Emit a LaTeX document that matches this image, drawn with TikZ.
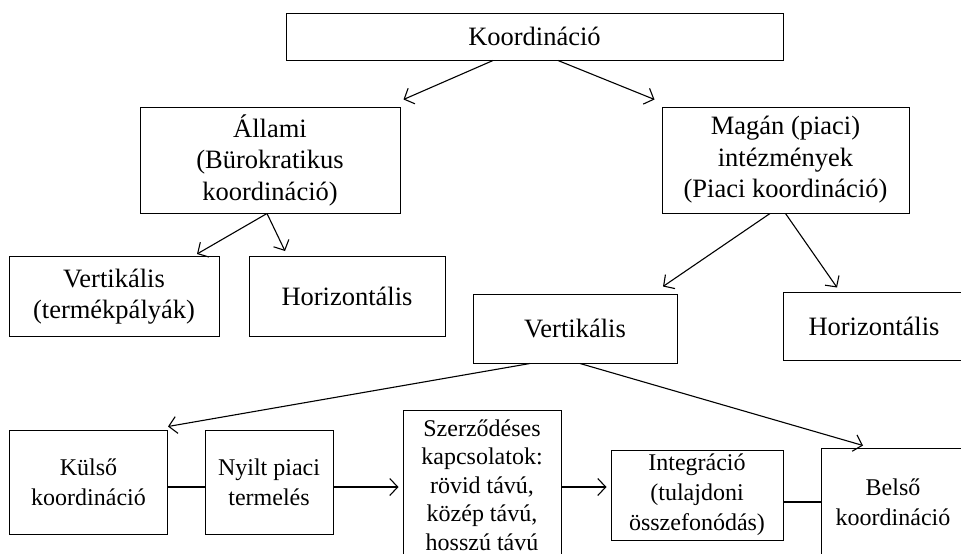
\documentclass[tikz,border=0pt]{standalone}
\usepackage{fontspec}
\setmainfont{Liberation Serif}
\usetikzlibrary{arrows.meta,positioning}

\newcommand{\bigtxt}{\fontsize{26.5}{31.5}\selectfont}
\newcommand{\smalltxt}{\fontsize{24}{30}\selectfont}
\newcommand{\densetxt}{\fontsize{24}{28.5}\selectfont}

\tikzset{
	box/.style={draw, line width=1pt, align=center, inner sep=0pt},
	arr/.style={line width=1.1pt, -{Straight Barb[length=8pt,width=17pt]}},
	link/.style={line width=1.1pt}
}

\begin{document}
\begin{tikzpicture}[node distance=130pt]
	\useasboundingbox (0pt,0pt) rectangle (961pt,-554pt);
	% Boxes, each placed from the one above or beside it
	\node (koord)		[box, minimum width=497pt, minimum height=47pt, font=\bigtxt]
										at (534.5pt,-36.5pt)		{Koordináció};
	\node (allami)	[box, below of=koord, xshift=-264.5pt, yshift=6.5pt,
										minimum width=260pt, minimum height=106pt, font=\bigtxt]
																						{Állami\\(Bürokratikus\\koordináció)};
	\node (magan)		[box, below of=koord, xshift=251pt, yshift=6.5pt,
										minimum width=247pt, minimum height=106pt, font=\bigtxt]
																						{Magán (piaci)\\intézmények\\(Piaci koordináció)};
	\node (vertA)		[box, below of=allami, xshift=-156pt, yshift=-6.5pt,
										minimum width=210pt, minimum height=80pt, font=\bigtxt]
																						{Vertikális\\(termékpályák)};
	\node (horizA)	[box, below of=allami, xshift=77pt, yshift=-6.5pt,
										minimum width=196pt, minimum height=80pt, font=\bigtxt]
																						{Horizontális};
	\node (vertM)		[box, below of=magan, xshift=-210.5pt, yshift=-38.5pt,
										minimum width=204pt, minimum height=69pt, font=\bigtxt]
																						{Vertikális};
	\node (horizM)	[box, below of=magan, xshift=88.5pt, yshift=-36pt,
										minimum width=182pt, minimum height=68pt, font=\bigtxt]
																						{Horizontális};
	\node (szerz)		[box, below of=vertM, xshift=-93pt, yshift=-26.5pt,
										minimum width=158pt, minimum height=150pt, font=\densetxt]
																						{Szerződéses\\kapcsolatok:\\rövid távú,\\közép távú,\\hosszú távú};
	\node (nyilt)		[box, left of=szerz, xshift=-83pt, yshift=3pt,
										minimum width=128pt, minimum height=104pt, font=\smalltxt]
																						{Nyilt piaci\\termelés};
	\node (kulso)		[box, left of=nyilt, xshift=-50.5pt,
										minimum width=158pt, minimum height=104pt, font=\smalltxt]
																						{Külső\\koordináció};
	\node (integr)	[box, right of=szerz, xshift=85pt, yshift=-10pt,
										minimum width=172pt, minimum height=90pt, font=\smalltxt]
																						{Integráció\\(tulajdoni\\összefonódás)};
	\node (belso)		[box, right of=integr, xshift=66pt, yshift=-7pt,
										minimum width=144pt, minimum height=108pt, font=\smalltxt]
																						{Belső\\koordináció};

	% Connectors between the boxes
	\draw[arr]	([xshift=-41.5pt]koord.south) -- ([xshift=3pt,yshift=7pt]allami.north east);
	\draw[arr]	([xshift=23.5pt]koord.south) -- ([xshift=-7pt,yshift=7pt]magan.north west);
	\draw[arr]	([xshift=-3pt]allami.south) -- ([xshift=83pt,yshift=2pt]vertA.north);
	\draw[arr]	([xshift=-3pt]allami.south) -- ([xshift=-62pt,yshift=5pt]horizA.north);
	\draw[arr]	([xshift=-15.5pt]magan.south) -- ([xshift=88pt,yshift=7pt]vertM.north);
	\draw[arr]	(magan.south) -- ([xshift=-37pt,yshift=4pt]horizM.north);
	\draw[arr]	([xshift=-45pt]vertM.south) -- ([yshift=3pt]kulso.north east);
	\draw[arr]	([xshift=5pt]vertM.south) -- ([xshift=-30pt,yshift=2pt]belso.north);
	\draw[link]	([yshift=-5pt]kulso.east) -- ([yshift=-5pt]kulso.east -| nyilt.west);
	\draw[arr, shorten >=4pt]	([yshift=-5pt]nyilt.east) -- ([yshift=-5pt]nyilt.east -| szerz.west);
	\draw[arr, shorten >=4pt]	([yshift=-2pt]szerz.east) -- ([yshift=-2pt]szerz.east -| integr.west);
	\draw[link]	([yshift=-7pt]integr.east) -- ([yshift=-7pt]integr.east -| belso.west);
\end{tikzpicture}
\end{document}
